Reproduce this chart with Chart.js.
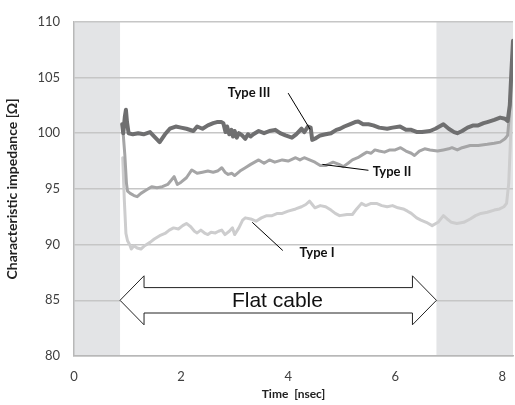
<!DOCTYPE html>
<html>
<head>
<meta charset="utf-8">
<script src="https://cdn.jsdelivr.net/npm/chart.js@4/dist/chart.umd.min.js"></script>
<style>
html,body{margin:0;padding:0;background:#fff;}
#wrap{width:515px;height:405px;}
</style>
</head>
<body>
<div id="wrap"><canvas id="c" width="515" height="405"></canvas></div>
<script>
// ---- data ----
const typeIIITime = [0.90,0.92,0.95,0.97,0.99,1.02,1.1,1.2,1.3,1.42,1.5,1.6,1.7,1.79,1.9,2.0,2.1,2.23,2.3,2.4,2.5,2.6,2.67,2.75,2.79,2.83,2.86,2.9,2.94,2.97,3.0,3.04,3.08,3.14,3.2,3.25,3.3,3.35,3.45,3.55,3.65,3.76,3.85,3.95,4.07,4.15,4.25,4.3,4.37,4.42,4.45,4.5,4.6,4.7,4.8,4.9,4.97,5.05,5.15,5.25,5.31,5.4,5.5,5.59,5.7,5.85,5.95,6.09,6.2,6.3,6.41,6.5,6.65,6.75,6.9,7.0,7.1,7.16,7.25,7.35,7.46,7.55,7.65,7.72,7.85,7.96,8.05,8.1,8.14,8.17,8.2];
const typeIIIValues = [100.8,100.0,101.5,102.1,101.0,100.0,99.9,100.0,99.9,100.1,99.7,99.2,99.9,100.4,100.6,100.5,100.4,100.2,100.6,100.4,100.7,100.9,101.0,101.0,100.9,100.1,100.6,99.9,100.3,99.7,100.2,99.6,100.0,99.8,99.5,99.9,99.7,99.9,100.2,100.0,100.2,100.3,100.0,99.8,99.6,99.9,100.4,100.1,100.6,100.5,99.4,99.5,99.8,99.9,100.0,100.3,100.4,100.6,100.8,101.0,101.05,100.8,100.8,100.7,100.5,100.4,100.5,100.6,100.3,100.3,100.1,100.1,100.2,100.4,100.8,100.4,100.1,100.0,100.2,100.5,100.7,100.7,100.9,101.0,101.2,101.4,101.3,101.1,102.5,105.5,108.3];

const typeIITime = [0.91,0.95,0.98,1.0,1.05,1.12,1.18,1.25,1.35,1.45,1.55,1.65,1.75,1.82,1.87,1.93,2.0,2.1,2.2,2.3,2.4,2.5,2.6,2.68,2.76,2.82,2.88,2.95,3.0,3.1,3.2,3.3,3.45,3.55,3.65,3.75,3.89,4.0,4.14,4.22,4.3,4.4,4.5,4.6,4.7,4.84,4.95,5.03,5.12,5.2,5.3,5.4,5.47,5.55,5.62,5.7,5.8,5.9,6.0,6.1,6.2,6.3,6.36,6.45,6.55,6.65,6.79,6.9,7.0,7.06,7.16,7.25,7.4,7.55,7.72,7.85,7.96,8.05,8.1,8.13,8.17,8.2];
const typeIIValues = [100.5,98.0,95.5,94.8,94.6,94.4,94.3,94.6,94.9,95.2,95.1,95.2,95.4,95.8,96.1,95.4,95.6,96.0,96.7,96.4,96.5,96.6,96.5,96.6,96.9,96.5,96.3,96.4,96.2,96.6,96.9,97.2,97.6,97.3,97.6,97.4,97.6,97.5,97.8,97.6,97.8,97.6,97.4,97.1,97.1,97.4,97.2,97.0,97.3,97.6,97.8,98.1,98.3,98.2,98.5,98.4,98.3,98.5,98.5,98.7,98.4,98.2,98.0,98.4,98.6,98.5,98.4,98.5,98.6,98.7,98.5,98.7,98.9,98.9,99.0,99.1,99.2,99.5,99.8,101.5,105.0,108.0];

const typeITime = [0.91,0.94,0.97,1.0,1.04,1.07,1.12,1.18,1.25,1.32,1.42,1.5,1.6,1.7,1.78,1.86,1.95,2.03,2.1,2.18,2.25,2.3,2.37,2.45,2.5,2.56,2.64,2.7,2.76,2.82,2.9,2.96,3.0,3.08,3.15,3.2,3.3,3.4,3.5,3.6,3.7,3.8,3.89,4.0,4.14,4.25,4.33,4.4,4.45,4.5,4.6,4.7,4.8,4.88,4.96,5.1,5.2,5.28,5.37,5.45,5.55,5.65,5.75,5.85,5.95,6.05,6.15,6.23,6.3,6.4,6.48,6.58,6.69,6.8,6.9,6.97,7.05,7.15,7.28,7.4,7.5,7.6,7.72,7.85,7.95,8.03,8.08,8.12,8.15,8.18,8.2];
const typeIValues = [97.8,94.0,91.0,90.35,90.0,89.6,89.9,89.7,89.6,89.9,90.2,90.5,90.8,91.0,91.3,91.5,91.4,91.7,91.9,91.6,91.2,91.05,91.3,91.0,90.9,91.1,91.05,91.2,91.3,90.9,91.2,91.5,90.9,91.5,92.2,92.4,92.3,92.1,92.4,92.6,92.6,92.8,92.8,93.0,93.2,93.4,93.6,93.9,93.6,93.3,93.5,93.4,93.1,92.8,92.6,92.7,92.7,93.2,93.7,93.5,93.7,93.7,93.5,93.4,93.5,93.3,93.2,93.0,92.8,92.4,92.2,92.0,91.7,92.0,92.6,92.3,92.0,91.9,92.0,92.3,92.6,92.8,92.9,93.1,93.2,93.4,93.7,95.5,99.0,104.0,107.5];

const seriesNames = ['Type III','Type II','Type I'];
const xTicks = [0, 2, 4, 6, 8];
const yTicks = [80, 85, 90, 95, 100, 105, 110];
// shaded (non-flat) time ranges and flat-cable span
const shadedRanges = [[0, 0.86], [6.77, 8.2]];
const flatCableSpan = [0.86, 6.77];

function pts(t, v) { return t.map((x, i) => ({x: x, y: v[i]})); }

const annotations = [
  {text: 'Type III', at: [3.27, 103.6], line: [[4.0, 103.6], [4.41, 100.35]]},
  {text: 'Type II', at: [5.94, 96.5], line: [[4.64, 97.2], [5.5, 96.67]]},
  {text: 'Type I', at: [4.54, 89.3], line: [[3.33, 92.0], [3.9, 89.47]]}
];

const FONT = 'Lato, "Open Sans", "Liberation Sans", sans-serif';

const bgPlugin = {
  id: 'bg',
  beforeDraw(chart) {
    const {ctx, chartArea, scales} = chart;
    ctx.save();
    ctx.fillStyle = '#e3e4e6';
    shadedRanges.forEach(r => {
      const x0 = scales.x.getPixelForValue(r[0]);
      const x1 = scales.x.getPixelForValue(r[1]);
      ctx.fillRect(x0, chartArea.top, x1 - x0, chartArea.bottom - chartArea.top);
    });
    ctx.restore();
  },
  afterDraw(chart) {
    const {ctx, scales} = chart;
    const X = v => scales.x.getPixelForValue(v);
    const Y = v => scales.y.getPixelForValue(v);
    ctx.save();
    ctx.strokeStyle = '#000';
    ctx.lineWidth = 1;
    ctx.fillStyle = '#111';
    ctx.font = 'bold 13px ' + FONT;
    ctx.textAlign = 'center';
    ctx.textBaseline = 'middle';
    annotations.forEach(a => {
      ctx.beginPath();
      ctx.moveTo(X(a.line[0][0]), Y(a.line[0][1]));
      ctx.lineTo(X(a.line[1][0]), Y(a.line[1][1]));
      ctx.stroke();
      ctx.fillText(a.text, X(a.at[0]), Y(a.at[1]));
    });
    // double arrow
    const yc = Y(85);
    const xl = X(flatCableSpan[0]), xr = X(flatCableSpan[1]);
    const head = 24;
    const hh = 24.5, sh = 12.7;
    ctx.beginPath();
    ctx.moveTo(xl, yc);
    ctx.lineTo(xl + head, yc - hh);
    ctx.lineTo(xl + head, yc - sh);
    ctx.lineTo(xr - head, yc - sh);
    ctx.lineTo(xr - head, yc - hh);
    ctx.lineTo(xr, yc);
    ctx.lineTo(xr - head, yc + hh);
    ctx.lineTo(xr - head, yc + sh);
    ctx.lineTo(xl + head, yc + sh);
    ctx.lineTo(xl + head, yc + hh);
    ctx.closePath();
    ctx.fillStyle = '#fff';
    ctx.fill();
    ctx.strokeStyle = '#222';
    ctx.lineWidth = 1;
    ctx.stroke();
    ctx.fillStyle = '#111';
    ctx.font = '21px "Liberation Sans", Arial, sans-serif';
    ctx.fillText('Flat cable', X(3.8), yc + 1);
    ctx.restore();
  }
};

new Chart(document.getElementById('c'), {
  type: 'line',
  data: {
    datasets: [
      {label: seriesNames[0], data: pts(typeIIITime, typeIIIValues), borderColor: '#6f6f70', borderWidth: 4, order: 1},
      {label: seriesNames[1], data: pts(typeIITime, typeIIValues), borderColor: '#a5a5a6', borderWidth: 3, order: 2},
      {label: seriesNames[2], data: pts(typeITime, typeIValues), borderColor: '#cdcdce', borderWidth: 3, order: 3}
    ]
  },
  options: {
    responsive: false,
    animation: false,
    elements: {point: {radius: 0}, line: {tension: 0, borderJoinStyle: 'round', borderCapStyle: 'round'}},
    layout: {padding: {top: 14, right: 2, left: 0, bottom: 0}},
    plugins: {legend: {display: false}, tooltip: {enabled: false}},
    scales: {
      x: {
        type: 'linear', min: 0, max: 8.2,
        afterBuildTicks(s) { s.ticks = xTicks.map(v => ({value: v})); },
        afterFit(s) { s.height = 49; },
        grid: {display: false},
        border: {display: true, color: '#b8b8b8', width: 1.5},
        ticks: {color: '#404040', font: {family: FONT, size: 13}, padding: 5, maxRotation: 0},
        title: {display: true, text: 'Time  [nsec]', color: '#222', font: {family: FONT, size: 12, weight: 'bold'}, padding: {top: 2}}
      },
      y: {
        type: 'linear', min: 80, max: 110,
        afterBuildTicks(s) { s.ticks = yTicks.map(v => ({value: v})); },
        afterFit(s) { s.width = 74; },
        grid: {color: '#c6c6c6', lineWidth: 1.5, drawTicks: false},
        border: {display: true, color: '#b8b8b8', width: 1.5},
        ticks: {color: '#404040', font: {family: FONT, size: 13}, padding: 14},
        title: {display: true, text: 'Characteristic impedance [Ω]', color: '#222', font: {family: FONT, size: 14, weight: 'bold'}, padding: {bottom: 4}}
      }
    }
  },
  plugins: [bgPlugin]
});
</script>
</body>
</html>
